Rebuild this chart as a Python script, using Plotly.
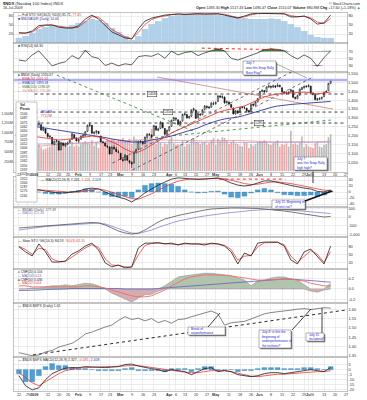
import plotly.graph_objects as go
import pandas as pd

W, H = 367, 400
ML, MR = 14, 20
FONT = "Liberation Sans"
GRID = "#dcdcdc"
LINEC = "#9a9a9a"
BLACK = "#1e1e1e"
RED = "#e63b36"
BLUE = "#33339f"
PURPLE = "#8585cc"

HOLIDAYS = ["2008-12-25", "2009-01-01", "2009-01-19", "2009-02-16",
            "2009-04-10", "2009-05-25", "2009-07-03"]
TICK_DATES = ["2008-12-22", "2008-12-29", "2009-01-02", "2009-01-12", "2009-01-20", "2009-01-26",
              "2009-02-02", "2009-02-09", "2009-02-17", "2009-02-23", "2009-03-02", "2009-03-09",
              "2009-03-16", "2009-03-23", "2009-04-01", "2009-04-06", "2009-04-13", "2009-04-20",
              "2009-04-27", "2009-05-01", "2009-05-11", "2009-05-18", "2009-05-26", "2009-06-01",
              "2009-06-08", "2009-06-15", "2009-06-22", "2009-06-29", "2009-07-01", "2009-07-06",
              "2009-07-13", "2009-07-20", "2009-07-27"]
TICK_LABELS = ["22", "29", "2009", "12", "20", "26", "Feb", "9", "17", "23", "Mar", "9", "16", "23",
               "Apr", "6", "13", "20", "27", "May", "11", "18", "26", "Jun", "8", "15", "22", "29",
               "Jul", "6", "13", "20", "27"]
MONTH_LABELS = ["2009", "Feb", "Mar", "Apr", "May", "Jun", "Jul"]

# ---- daily $NDX data, 19-Dec-2008 .. 16-Jul-2009 ----
OPEN = [1200, 1205, 1190, 1180, 1188, 1192, 1182, 1206,
        1214, 1258, 1260, 1262, 1230, 1238,
        1212, 1192, 1190, 1150, 1166,
        1168, 1120, 1158, 1142,
        1150, 1162, 1178, 1206, 1185,
        1168, 1180, 1196, 1198, 1224,
        1256, 1258, 1212, 1220, 1224,
        1198, 1164, 1158, 1140,
        1136, 1098, 1134, 1124, 1108,
        1100, 1064, 1062, 1086, 1058,
        1048, 1045, 1104, 1124, 1164,
        1164, 1156, 1190, 1206, 1204,
        1200, 1254, 1230, 1240, 1272,
        1240, 1208, 1230, 1252, 1285,
        1298, 1290, 1262, 1282,
        1318, 1320, 1300, 1310, 1344,
        1345, 1300, 1322, 1318, 1348,
        1365, 1362, 1360, 1380, 1380,
        1392, 1424, 1416, 1418, 1386,
        1390, 1376, 1356, 1322, 1340,
        1332, 1362, 1358, 1355, 1342,
        1335, 1378, 1372, 1390,
        1415, 1450, 1454, 1448, 1474,
        1478, 1474, 1480, 1476, 1484,
        1470, 1446, 1442, 1438, 1448,
        1455, 1416, 1408, 1428, 1460,
        1470, 1480, 1476, 1480,
        1440, 1432, 1402, 1406, 1410,
        1420, 1446, 1455, 1495]
HIGH = [1212, 1208, 1192, 1190, 1196, 1195, 1208, 1215,
        1265, 1268, 1285, 1264, 1252, 1240,
        1216, 1205, 1192, 1172, 1180,
        1170, 1162, 1162, 1160,
        1166, 1182, 1215, 1208, 1192,
        1186, 1200, 1212, 1226, 1262,
        1274, 1260, 1225, 1230, 1226,
        1198, 1172, 1162, 1148,
        1140, 1140, 1146, 1136, 1118,
        1102, 1078, 1096, 1090, 1062,
        1056, 1107, 1126, 1168, 1175,
        1170, 1194, 1214, 1216, 1206,
        1260, 1256, 1245, 1282, 1272,
        1242, 1234, 1254, 1290, 1306,
        1302, 1290, 1284, 1324,
        1330, 1322, 1312, 1348, 1358,
        1346, 1328, 1326, 1350, 1372,
        1370, 1368, 1390, 1392, 1394,
        1428, 1428, 1428, 1420, 1398,
        1392, 1380, 1358, 1345, 1342,
        1362, 1368, 1368, 1356, 1344,
        1380, 1382, 1394, 1412,
        1452, 1462, 1458, 1478, 1488,
        1482, 1488, 1486, 1496, 1488,
        1472, 1452, 1450, 1450, 1464,
        1454, 1420, 1432, 1466, 1476,
        1482, 1484, 1490, 1480,
        1444, 1436, 1412, 1416, 1420,
        1448, 1456, 1498, 1516]
LOW = [1195, 1182, 1176, 1178, 1184, 1174, 1180, 1200,
       1210, 1245, 1255, 1228, 1225, 1208,
       1185, 1186, 1150, 1148, 1160,
       1115, 1118, 1140, 1135,
       1145, 1158, 1176, 1182, 1168,
       1160, 1175, 1190, 1194, 1220,
       1250, 1210, 1206, 1205, 1208,
       1162, 1155, 1138, 1128,
       1094, 1095, 1120, 1106, 1100,
       1062, 1052, 1058, 1058, 1040,
       1018, 1044, 1098, 1120, 1155,
       1148, 1152, 1184, 1196, 1188,
       1200, 1226, 1224, 1238, 1240,
       1200, 1204, 1222, 1250, 1282,
       1282, 1258, 1258, 1280,
       1312, 1296, 1294, 1305, 1338,
       1294, 1298, 1310, 1315, 1342,
       1352, 1350, 1356, 1372, 1374,
       1390, 1410, 1408, 1380, 1380,
       1370, 1356, 1320, 1318, 1322,
       1330, 1352, 1350, 1336, 1328,
       1335, 1364, 1368, 1388,
       1412, 1444, 1440, 1444, 1470,
       1465, 1470, 1468, 1476, 1472,
       1444, 1432, 1430, 1435, 1442,
       1412, 1404, 1406, 1426, 1458,
       1466, 1470, 1474, 1438,
       1428, 1398, 1395, 1400, 1402,
       1418, 1440, 1452, 1490]
CLOSE = [1207, 1188, 1181, 1185, 1192, 1180, 1205, 1212,
         1262, 1262, 1272, 1232, 1241, 1214,
         1194, 1196, 1154, 1168, 1172,
         1118, 1160, 1145, 1152,
         1160, 1173, 1210, 1186, 1170,
         1178, 1197, 1200, 1222, 1258,
         1262, 1214, 1218, 1226, 1212,
         1165, 1160, 1142, 1137,
         1096, 1135, 1126, 1110, 1106,
         1066, 1060, 1090, 1061, 1050,
         1040, 1105, 1122, 1165, 1168,
         1155, 1192, 1208, 1205, 1192,
         1257, 1232, 1238, 1275, 1245,
         1207, 1230, 1250, 1287, 1302,
         1294, 1264, 1280, 1320,
         1323, 1300, 1308, 1345, 1352,
         1298, 1324, 1317, 1345, 1368,
         1360, 1358, 1383, 1378, 1386,
         1425, 1418, 1420, 1385, 1392,
         1378, 1360, 1322, 1340, 1328,
         1360, 1360, 1357, 1340, 1333,
         1376, 1372, 1390, 1410,
         1450, 1455, 1446, 1475, 1480,
         1474, 1482, 1475, 1485, 1478,
         1448, 1442, 1440, 1445, 1460,
         1417, 1410, 1426, 1462, 1472,
         1478, 1477, 1483, 1441,
         1434, 1404, 1408, 1410, 1416,
         1445, 1450, 1495, 1510]
VOLUME_M = [900, 550, 480, 300, 220, 420, 520, 480,
            450, 600, 700, 620, 560, 580,
            610, 640, 720, 760, 700,
            720, 760, 700, 740,
            640, 660, 760, 640, 680,
            640, 700, 720, 780, 720,
            700, 800, 660, 760, 600,
            760, 700, 740, 820,
            800, 840, 820, 760, 820,
            820, 860, 800, 780, 840,
            700, 900, 820, 800, 720,
            760, 800, 860, 780, 1100,
            780, 700, 800, 740, 640,
            720, 700, 800, 900, 720,
            680, 700, 680, 800,
            640, 700, 700, 800, 860,
            760, 760, 700, 740, 760,
            680, 720, 800, 860, 680,
            840, 780, 880, 860, 800,
            700, 760, 800, 720, 700,
            660, 640, 760, 740, 600,
            700, 660, 700, 760,
            780, 760, 800, 760, 700,
            680, 720, 760, 800, 640,
            700, 680, 720, 640, 1050,
            700, 720, 680, 740, 900,
            620, 700, 640, 620,
            600, 720, 760, 640, 620,
            680, 700, 880, 960]

# ---- indicators, read every 3rd trading day from 22-Dec-2008 ----
P1_BARS = [7, 13, 23, 37, 43, 47, 43, 43, 50, 57, 63, 70, 67, 57, 40, 27, 13, 0, 13, 37, 53, 63, 73, 80,
           83, 85, 85, 85, 85, 85, 83, 82, 80, 77, 73, 70, 70, 70, 72, 70, 63, 53, 43, 30, 17, 10, 7, 7]
P1_K = [23, 23, 30, 48, 50, 50, 43, 40, 40, 47, 70, 83, 70, 50, 27, 17, 7, 3, 37, 63, 73, 78, 83, 85,
        87, 85, 87, 88, 87, 88, 88, 83, 77, 73, 80, 87, 89, 89, 89, 89, 87, 77, 77, 80, 70, 53, 57, 83]
P1_D = [25, 23, 26, 42, 49, 50, 46, 42, 40, 43, 62, 78, 76, 58, 35, 22, 11, 5, 25, 52, 68, 76, 81, 84,
        86, 86, 86, 87, 87, 87, 88, 86, 80, 75, 77, 84, 88, 89, 89, 89, 88, 81, 78, 79, 74, 60, 55, 72]
RSI = [45, 42, 60, 72, 50, 28, 35, 40, 58, 48, 73, 55, 50, 29, 36, 28, 34, 31, 55, 58, 56, 64, 50, 71,
       60, 67, 70, 58, 66, 72, 78, 72, 50, 45, 52, 58, 66, 75, 78, 76, 72, 58, 48, 60, 50, 27, 52, 72]
MA_RED = [1186, 1186, 1192, 1192, 1186, 1181, 1175, 1178, 1181, 1186, 1192, 1198, 1192, 1181, 1164, 1147,
          1124, 1107, 1107, 1124, 1147, 1169, 1192, 1215, 1232, 1249, 1266, 1282, 1299, 1316, 1331, 1342,
          1350, 1362, 1367, 1384, 1401, 1418, 1429, 1435, 1441, 1441, 1444, 1446, 1441, 1435, 1441, 1446]
MA_BLUE = [1266, 1260, 1254, 1249, 1243, 1237, 1232, 1226, 1220, 1215, 1209, 1203, 1198, 1189, 1181, 1175,
           1169, 1164, 1164, 1167, 1175, 1181, 1189, 1198, 1209, 1218, 1232, 1243, 1260, 1274, 1285, 1294,
           1299, 1305, 1314, 1325, 1339, 1350, 1359, 1367, 1373, 1376, 1379, 1381, 1384, 1387, 1390, 1393]
VOL_MA_RED = [600, 610, 620, 640, 660, 680, 700, 710, 720, 730, 740, 750, 760, 770, 780, 790, 800, 805,
              810, 815, 815, 810, 800, 795, 790, 785, 780, 780, 785, 790, 795, 800, 800, 795, 790, 780,
              770, 765, 760, 760, 765, 770, 770, 765, 760, 760, 765, 775]
VOL_MA_PURPLE = [700, 700, 705, 705, 710, 710, 715, 715, 720, 720, 725, 725, 730, 730, 735, 735, 740, 740,
                 745, 745, 750, 750, 750, 752, 752, 754, 754, 756, 756, 756, 758, 758, 758, 758, 756, 756,
                 754, 754, 752, 752, 750, 750, 748, 748, 746, 746, 745, 745]
MACD_LINE = [7, 7, 7, 7, 3, 0, -3, -3, 0, 3, 10, 13, 10, 0, -10, -17, -23, -33, -20, -3, 10, 23, 33, 43,
             47, 45, 43, 42, 43, 45, 47, 40, 30, 23, 20, 23, 30, 37, 37, 33, 27, 22, 17, 13, 10, 2, 0, 7]
MACD_SIGNAL = [5, 6, 7, 7, 6, 4, 1, -1, -1, 0, 4, 8, 10, 6, -1, -8, -15, -22, -24, -16, -6, 6, 17, 28,
               36, 41, 43, 44, 44, 44, 45, 44, 40, 34, 28, 25, 26, 30, 33, 34, 32, 28, 24, 20, 16, 11, 6, 5]
MACD_HIST = [3, 2, 0, 0, -5, -7, -7, -4, 2, 5, 10, 9, 0, -10, -15, -16, -14, -18, 7, 22, 28, 30, 28, 26,
             19, 7, 0, -3, -2, 2, 3, -7, -17, -19, -14, -3, 7, 12, 7, -2, -9, -10, -12, -12, -10, -15, -10, 3]
AD_LINE = [-630, -600, -575, -550, -520, -490, -460, -430, -400, -375, -345, -315, -345, -460, -630, -805,
           -920, -980, -920, -750, -520, -290, -115, 0, 85, 170, 260, 345, 400, 460, 490, 520,
           520, 520, 520, 520, 490, 460, 430, 400, 345, 290, 230, 170, 115, 60, 0, 30]
AD_MA = [-750, -690, -630, -575, -545, -520, -490, -460, -430, -400, -375, -345, -345, -400, -520, -660,
         -805, -920, -950, -860, -750, -600, -460, -345, -230, -145, -60, 0, 60, 115, 170, 230,
         260, 290, 345, 375, 400, 430, 460, 460, 430, 400, 375, 345, 315, 290, 230, 200]
STO_K = [80, 61, 46, 91, 61, 23, 23, 27, 53, 65, 83, 94, 68, 20, 5, 12, 1, 5, 76, 94, 94, 96, 91, 94,
         87, 94, 91, 91, 87, 94, 91, 83, 61, 16, 57, 46, 94, 98, 98, 98, 83, 31, 16, 61, 72, 42, 16, 83]
STO_D = [82, 70, 52, 75, 70, 35, 25, 25, 42, 60, 76, 88, 78, 35, 12, 10, 5, 4, 50, 85, 93, 94, 92, 92,
         89, 91, 91, 90, 89, 91, 91, 86, 70, 30, 45, 48, 80, 95, 97, 97, 88, 45, 22, 45, 66, 52, 22, 62]
CMF_AREA = [0, 0, 0.02, 0.02, 0.04, 0.06, 0.06, 0.08, 0.06, 0.08, 0.11, 0.10, 0.06, 0, -0.08, -0.13,
            -0.19, -0.25, -0.17, -0.11, -0.10, -0.04, 0.06, 0.15, 0.23, 0.25, 0.27, 0.29, 0.30, 0.30, 0.29, 0.27,
            0.25, 0.21, 0.17, 0.06, 0.15, 0.17, 0.21, 0.23, 0.23, 0.19, 0.17, 0.08, -0.04, -0.06, -0.02, 0.11]
CMF_RED = [0.06, 0.06, 0.04, 0.04, 0.04, 0.04, 0.04, 0.04, 0.04, 0.04, 0.06, 0.06, 0.04, 0.02, -0.02, -0.06,
           -0.10, -0.13, -0.15, -0.15, -0.13, -0.08, -0.02, 0.06, 0.13, 0.19, 0.23, 0.25, 0.27, 0.27, 0.27, 0.26,
           0.25, 0.23, 0.21, 0.19, 0.17, 0.17, 0.17, 0.18, 0.19, 0.19, 0.17, 0.15, 0.11, 0.08, 0.06, 0.06]
CMF_BLUE = [-0.03, -0.03, -0.02, -0.02, -0.01, -0.01, 0, 0, 0.01, 0.01, 0.02, 0.02, 0.02, 0.02, 0.01, 0.01,
            0, 0, -0.01, -0.01, 0, 0.01, 0.02, 0.03, 0.04, 0.05, 0.06, 0.07, 0.08, 0.09, 0.10, 0.11,
            0.12, 0.13, 0.14, 0.15, 0.16, 0.17, 0.18, 0.18, 0.19, 0.19, 0.18, 0.17, 0.16, 0.14, 0.13, 0.13]
RATIO = [1.368, 1.362, 1.352, 1.356, 1.372, 1.380, 1.398, 1.408, 1.418, 1.440, 1.468, 1.478, 1.492, 1.505,
         1.515, 1.540, 1.560, 1.545, 1.552, 1.538, 1.550, 1.528, 1.540, 1.525, 1.545, 1.548, 1.560, 1.570,
         1.582, 1.590, 1.575, 1.515, 1.528, 1.530, 1.535, 1.548, 1.560, 1.575, 1.582, 1.585, 1.588, 1.595,
         1.600, 1.603, 1.598, 1.602, 1.608, 1.606]
RMACD_LINE = [-6, -16, -20, -18, -10, -4, -1, 1.5, 2, 2, 3, 2.5, 2, 2, 2.5, 3, 5, 5.5, 3.5, 2, 1, 0, -2, 0,
              -1, -2, -5, -2, 1, 2, -2, -1, -2, -5, -6, -7, -6, -4, -3, -3, -4, -3, -2, -1, 0, -1, -2, 2]
RMACD_SIGNAL = [-3, -8, -13, -16, -12, -8, -4, -1, 0.5, 1.5, 2, 2.5, 3, 3, 3, 3.5, 4, 4, 4, 3, 2, 1, 0, -1,
                -1.5, -2.5, -3, -3, -2, -1, -1, -1, -2, -3.5, -5, -6.5, -7, -6, -5, -4.5, -4.5, -4, -3, -2.5,
                -2, -2, -2, -1]
RMACD_HIST = [-4, -12, -12, -6, 3, 6, 4, 4, 2, 1, 1, 0, -1, -1, -1, -1, 1, 2, -1, -1, -1, -1, -2, 1,
              1, 1, -2, 1, 3, 3, -1, 0, 0, -2, -1, -1, 1, 2, 2, 2, 1, 1, 1, 2, 2, 1, 0, 3]

# ---- drawn lines (trading-day position, value) ----
RESIST_LEVEL = 1514
LEVELS = [1435, 1333, 1271]
LEVEL_LABELS = ["1458", "1356", "1285"]
LEVEL_LABEL_POS = [61.3, 68.4, 109.4]
CHAN_UP_X, CHAN_UP_Y = [43.3, 129.6], [1045, 1593]
CHAN_LO_X, CHAN_LO_Y = [52.3, 134.1], [1006, 1531]
DOWN_GREEN_X, DOWN_GREEN_Y = [18.1, 81.0], [1542, 1220]
DOWN_BROWN_X, DOWN_BROWN_Y = [63.5, 143.1], [1531, 1350]
UP_GREEN_X, UP_GREEN_Y = [59.9, 142.2], [1186, 1288]
RSI_TL_X, RSI_TL_Y = [83.7, 119.7], [80, 75]
MACD_TL_X, MACD_TL_Y = [91.4, 121.5], [43, 43]
RATIO_TL_X, RATIO_TL_Y = [7.3, 148.5], [1.356, 1.595]
BOX_NUMBERS = ["1500", "1487", "1475", "1462", "1450", "1437", "1425", "1412", "1400", "1387",
               "1375", "1362", "1350", "1337", "1325", "1312", "1300", "1287", "1275", "1262"]

# ---------------------------------------------------------------------------
days = pd.bdate_range("2008-12-19", "2009-07-31")
days = days[~days.isin(pd.to_datetime(HOLIDAYS))]
day_pos = {d.strftime("%Y-%m-%d"): i for i, d in enumerate(days)}
N = len(CLOSE)
XD = list(range(N))
XS = list(range(1, N, 3))
for arr in [OPEN, HIGH, LOW, VOLUME_M]:
    assert len(arr) == N
for arr in [P1_BARS, P1_K, P1_D, RSI, MA_RED, MA_BLUE, VOL_MA_RED, VOL_MA_PURPLE, MACD_LINE,
            MACD_SIGNAL, MACD_HIST, AD_LINE, AD_MA, STO_K, STO_D, CMF_AREA, CMF_RED, CMF_BLUE, RATIO,
            RMACD_LINE, RMACD_SIGNAL, RMACD_HIST]:
    assert len(arr) == len(XS), len(arr)

TICKVALS = [day_pos[d] for d in TICK_DATES]
TICKTEXT = [f"<b>{t}</b>" if t in MONTH_LABELS else t for t in TICK_LABELS]
XR = [-1.25, 149.4]
PANELS = [(13, 43), (43, 72), (72, 172), (177, 207), (207, 237), (237, 269), (269, 303), (303, 357), (357, 391)]


def dom(t, b):
    return [1 - b / H, 1 - t / H]


def xn(i):
    return "x" if i == 1 else f"x{i}"


def yn(i):
    return "y" if i == 1 else f"y{i}"


fig = go.Figure()


def line(x, y, xa, ya, color, width=0.8, dash=None, fill=None, fillcolor=None):
    fig.add_trace(go.Scatter(x=x, y=y, mode="lines", xaxis=xa, yaxis=ya,
                             line=dict(color=color, width=width, dash=dash),
                             fill=fill, fillcolor=fillcolor, hoverinfo="skip", showlegend=False))


# P1
fig.add_trace(go.Bar(x=XS, y=[v + 10 for v in P1_BARS], base=-10, width=3, xaxis="x", yaxis="y",
                     marker=dict(color="rgba(165,200,228,0.85)", line=dict(width=0)), hoverinfo="skip"))
line(XS, P1_D, "x", "y", RED, 0.8)
line(XS, P1_K, "x", "y", BLACK, 0.8)
fig.add_trace(go.Scatter(x=[0], y=[0], mode="markers", marker=dict(opacity=0), xaxis="x", yaxis="y11",
                         hoverinfo="skip", showlegend=False))

# P2 RSI
line(XS, [70] * len(XS), "x2", "y2", "rgba(0,0,0,0)", 0)
line(XS, [max(v, 70) for v in RSI], "x2", "y2", "rgba(0,0,0,0)", 0, fill="tonexty",
     fillcolor="rgba(50,110,50,0.9)")
line(XS, [30] * len(XS), "x2", "y2", "rgba(0,0,0,0)", 0)
line(XS, [min(v, 30) for v in RSI], "x2", "y2", "rgba(0,0,0,0)", 0, fill="tonexty",
     fillcolor="rgba(110,50,95,0.9)")
line(XS, RSI, "x2", "y2", BLACK, 0.7)
line(RSI_TL_X, RSI_TL_Y, "x2", "y2", "#ff2020", 1.0, dash="dot")

# P3 price + volume
vcol = ["rgba(236,150,150,0.85)" if i > 0 and CLOSE[i] < CLOSE[i - 1] else "rgba(178,178,178,0.9)"
        for i in range(N)]
fig.add_trace(go.Bar(x=XD, y=VOLUME_M, width=0.75, xaxis="x3", yaxis="y3",
                     marker=dict(color=vcol, line=dict(width=0)), hoverinfo="skip"))
line(XS, VOL_MA_RED, "x3", "y3", "#f08080", 0.7)
line(XS, VOL_MA_PURPLE, "x3", "y3", "#a0a0e0", 0.7)
line(XR, [RESIST_LEVEL] * 2, "x3", "y10", "rgba(150,150,250,0.75)", 2.6)
for lv in LEVELS:
    line([8, 148], [lv, lv], "x3", "y10", "#111", 0.8, dash="dot")
line(CHAN_UP_X, CHAN_UP_Y, "x3", "y10", "#333", 0.7, dash="dot")
line(CHAN_LO_X, CHAN_LO_Y, "x3", "y10", "#333", 0.7, dash="dot")
line(DOWN_GREEN_X, DOWN_GREEN_Y, "x3", "y10", "#2f7a2f", 0.8, dash="dot")
line(DOWN_BROWN_X, DOWN_BROWN_Y, "x3", "y10", "#c07070", 0.7)
line(UP_GREEN_X, UP_GREEN_Y, "x3", "y10", "#2f7a2f", 0.8, dash="dot")
line(XS, MA_BLUE, "x3", "y10", BLUE, 0.9)
line(XS, MA_RED, "x3", "y10", RED, 0.9)
fig.add_trace(go.Candlestick(x=XD, open=OPEN, high=HIGH, low=LOW, close=CLOSE, xaxis="x3", yaxis="y10",
                             increasing=dict(line=dict(color="#111", width=0.6), fillcolor="white"),
                             decreasing=dict(line=dict(color="#111", width=0.6), fillcolor="#111"),
                             whiskerwidth=0, hoverinfo="skip", showlegend=False))

# P4 MACD
fig.add_trace(go.Bar(x=XS, y=MACD_HIST, width=2.2, xaxis="x4", yaxis="y4",
                     marker=dict(color="#4d9fd6", line=dict(color="#2a6fa5", width=0.3)), hoverinfo="skip"))
line(XS, MACD_SIGNAL, "x4", "y4", RED, 0.8)
line(XS, MACD_LINE, "x4", "y4", BLACK, 0.8)
line(MACD_TL_X, MACD_TL_Y, "x4", "y4", "#ff2020", 1.0, dash="dot")

# P5
line(XS, AD_MA, "x5", "y5", PURPLE, 0.8)
line(XS, AD_LINE, "x5", "y5", "#555", 0.8)

# P6 slow sto
line(XS, STO_D, "x6", "y6", RED, 0.8)
line(XS, STO_K, "x6", "y6", BLACK, 0.8)

# P7 CMF
line(XS, [max(v, 0) for v in CMF_AREA], "x7", "y7", "#888", 0.5, fill="tozeroy",
     fillcolor="rgba(170,190,165,0.9)")
line(XS, [min(v, 0) for v in CMF_AREA], "x7", "y7", "#888", 0.5, fill="tozeroy",
     fillcolor="rgba(205,165,170,0.9)")
line(XS, CMF_BLUE, "x7", "y7", "#6060c0", 0.8)
line(XS, CMF_RED, "x7", "y7", "#f06a6a", 0.9)

# P8 ratio
line(RATIO_TL_X, RATIO_TL_Y, "x8", "y8", "#111", 0.9, dash="dot")
line(XS, RATIO, "x8", "y8", "#505050", 0.7)

# P9 ratio MACD
fig.add_trace(go.Bar(x=XS, y=RMACD_HIST, width=2.2, xaxis="x9", yaxis="y9",
                     marker=dict(color="#4d9fd6", line=dict(color="#2a6fa5", width=0.3)), hoverinfo="skip"))
line(XS, RMACD_SIGNAL, "x9", "y9", RED, 0.8)
line(XS, RMACD_LINE, "x9", "y9", BLACK, 0.8)

# ---------------------------------------------------------------------------
TF = dict(size=4.0, color="#333", family=FONT)
lay = dict(width=W, height=H, margin=dict(l=ML, r=MR, t=0, b=0, pad=0, autoexpand=False),
           paper_bgcolor="white", plot_bgcolor="white", showlegend=False, barmode="overlay",
           hovermode=False, font=dict(family=FONT, size=4.0, color="#222"))
for i in range(1, 10):
    xa = dict(domain=[0, 1], anchor=yn(i), range=XR, tickvals=TICKVALS, ticktext=TICKTEXT,
              showticklabels=False, showgrid=True, gridcolor=GRID, gridwidth=0.5,
              showline=True, mirror=True, linecolor=LINEC, linewidth=0.6, ticks="", zeroline=False,
              tickfont=TF, fixedrange=True, automargin=False)
    if i > 1:
        xa["matches"] = "x"
    if i == 3:
        xa["rangeslider"] = dict(visible=False)
    lay["xaxis" if i == 1 else f"xaxis{i}"] = xa


def yax(i, rng, tv, tt, side="right", grid=True, size=4.0):
    return dict(domain=dom(*PANELS[i - 1]), anchor=xn(i), range=rng, side=side, tickvals=tv, ticktext=tt,
                showgrid=grid, gridcolor=GRID, gridwidth=0.5, zeroline=False, showline=True, mirror=True,
                linecolor=LINEC, linewidth=0.6, ticks="", tickfont=dict(size=size, color="#333", family=FONT),
                fixedrange=True, automargin=False)


lay["yaxis"] = yax(1, [-10, 90], [20, 50, 80], ["20", "50", "80"])
lay["yaxis11"] = dict(overlaying="y", anchor="x", side="left", range=[-10, 90], tickvals=[20, 50, 80],
                      ticktext=["20", "50", "80"], showgrid=False, showline=False, zeroline=False, ticks="",
                      tickfont=dict(size=3.8, color="#333", family=FONT), fixedrange=True, automargin=False)
lay["yaxis2"] = yax(2, [10, 95], [30, 50, 70], ["30", "50", "70"])
lay["yaxis3"] = yax(3, [-26, 2580], [250, 500, 750, 1000, 1250, 1500],
                    ["250M", "500M", "750M", "1,000M", "1,250M", "1,500M"], side="left", grid=False, size=3.4)
pt = list(range(1050, 1551, 50))
lay["yaxis10"] = dict(overlaying="y3", anchor="x3", side="right", range=[994.4, 1559.3], tickvals=pt,
                      ticktext=[f"{v:,}" for v in pt], showgrid=True, gridcolor=GRID, gridwidth=0.5,
                      showline=False, zeroline=False, ticks="", tickfont=TF, fixedrange=True, automargin=False)
lay["yaxis4"] = yax(4, [-50, 50], [-40, -20, 0, 20, 40], ["-40", "-20", "0", "20", "40"])
lay["yaxis5"] = yax(5, [-1150, 575], [-1000, -500, 0, 500], ["-1,000", "-500", "0", "500"])
lay["yaxis6"] = yax(6, [-3, 117], [20, 50, 80], ["20", "50", "80"])
lay["yaxis7"] = yax(7, [-0.267, 0.381], [-0.2, 0, 0.2], ["-0.2", "0.0", "0.2"])
rt = [1.35, 1.40, 1.45, 1.50, 1.55, 1.60]
lay["yaxis8"] = yax(8, [1.345, 1.633], rt, [f"{v:.2f}" for v in rt])
lay["yaxis9"] = yax(9, [-21.15, 12.5], [-20, -15, -10, -5, 0, 5], ["-20", "-15", "-10", "-5", "0", "5"])

shapes, anns = [], []


def P(x, y):
    return (x - ML) / (W - ML - MR), 1 - y / H


def txt(x, y, s, size=3.6, color="#222", xanchor="left"):
    a, b = P(x, y)
    anns.append(dict(x=a, y=b, xref="paper", yref="paper", text=s, showarrow=False, xanchor=xanchor,
                     yanchor="middle", align="left", font=dict(size=size, color=color, family=FONT)))


def rect(x0, y0, x1, y1, fill, lc="#888", lw=0.5):
    a, b = P(x0, y1)
    c, d = P(x1, y0)
    shapes.append(dict(type="rect", xref="paper", yref="paper", x0=a, y0=b, x1=c, y1=d, fillcolor=fill,
                       line=dict(color=lc, width=lw), layer="above"))


def seg(x0, y0, x1, y1, color, width):
    a, b = P(x0, y0)
    c, d = P(x1, y1)
    shapes.append(dict(type="line", xref="paper", yref="paper", x0=a, y0=b, x1=c, y1=d,
                       line=dict(color=color, width=width), layer="above"))


def note(x0, y0, x1, y1, lines):
    rect(x0 + 1.3, y0 + 1.3, x1 + 1.3, y1 + 1.3, "#7a7a7a", lc="#7a7a7a", lw=0)
    rect(x0, y0, x1, y1, "white", lc="#666", lw=0.5)
    step = (y1 - y0) / len(lines)
    for k, s in enumerate(lines):
        txt(x0 + 1.2, y0 + step * (k + 0.5), s, size=3.2, color="#2525d0")


R = "<span style='color:#e63b36'>%s</span>"
B = "<span style='color:#33339f'>%s</span>"

# date labels under the price panel and under the bottom panel
for ypx in (174.8, 395.3):
    for tv, tt in zip(TICKVALS, TICKTEXT):
        anns.append(dict(x=tv, y=1 - ypx / H, xref="x9", yref="paper", text=tt, showarrow=False,
                         xanchor="center", yanchor="middle", font=dict(size=3.8, color="#333", family=FONT)))

# header
txt(1, 3.5, "<b>$NDX</b> (Nasdaq 100 Index) INDX", size=4.2)
txt(1, 8.3, "16-Jul-2009", size=3.7)
txt(362, 3.5, "© StockCharts.com", size=3.6, xanchor="right")
txt(362, 8.3, "<b>Open</b> 1493.30 <b>High</b> 1517.43 <b>Low</b> 1490.47 <b>Close</b> 1510.07 "
              "<b>Volume</b> 880.8M <b>Chg</b> +17.60 (+1.18%) <span style='color:#1a9a1a'>▲</span>",
    size=3.7, xanchor="right")

# panel legends
txt(16, 14.8, "— Full STO %K(30,5) %D(5) 81.71, " + R % "77.45", size=3.4)
txt(16, 18.6, B % "■ $NDXA50R (Daily) 14.00", size=3.4)
txt(16, 45.8, "<span style='color:#326e32'>■</span> RSI(14) 64.30", size=3.5)
txt(16, 75.2, "<span style='color:#6060a0'>■</span> $NDX (Daily) 1510.07", size=3.3)
txt(16, 79.1, R % "— EMA(20) 1441.32", size=3.3)
txt(16, 83, B % "— EMA(50) 1393.18", size=3.3)
txt(16, 86.9, "<span style='color:#2f7a2f'>- - SMA(150) 1288.09</span>", size=3.3)
txt(16, 90.8, "<span style='color:#e08080'>— Vol MA(50) 773.2M</span>", size=3.3)
txt(39, 112, B % "880.8M", size=3.3)
txt(39, 116, R % "773.2M", size=3.3)
txt(39, 179.8, "— MACD(12,26,9) 7.245, " + R % "5.126" + ", " + B % "2.119", size=3.5)
txt(16, 209.5, "<span style='color:#555'>— $NDAD (Daily) -177.49</span>", size=3.3)
txt(16, 213.3, "<span style='color:#8585cc'>— MA(50) 221.46</span>", size=3.3)
txt(16, 240.6, "— Slow STO %K(14,3) 84.59, " + R % "%D(3) 61.55", size=3.5)
txt(16, 272, "<span style='color:#8aa585'>■</span> CMF(20) 0.104", size=3.2)
txt(16, 275.8, "<span style='color:#6060c0'>— MA(100) 0.13</span>", size=3.2)
txt(16, 279.6, "<span style='color:#2f7a2f'>■</span> CMF(50) 0.036", size=3.2)
txt(16, 283.4, R % "— MA(20) 0.054", size=3.2)
txt(16, 306, "— $NDX:$SPX (Daily) 1.61", size=3.5)
txt(16, 359.8, "— $NDX:$SPX MACD(12,26,9) 2.327, " + R % "-0.081" + ", " + B % "2.408", size=3.5)

# left side box in price panel
rect(16, 102, 37, 202, "white", lc="#8a8a8a", lw=0.5)
txt(17.5, 105, "<b>Vol</b>", size=3.3)
txt(17.5, 108.6, "<b>Pivots</b>", size=3.3)
for k, s in enumerate(BOX_NUMBERS):
    txt(17.5, 114 + 4.3 * k, s, size=3.3)

# level labels
for lv, lab, xp in zip(LEVELS, LEVEL_LABELS, LEVEL_LABEL_POS):
    anns.append(dict(x=xp, y=lv, xref="x3", yref="y10", text=lab, showarrow=False, bgcolor="white",
                     bordercolor="#222", borderwidth=0.5, borderpad=0.6,
                     font=dict(size=3.4, color="#111", family=FONT)))

# comment boxes
note(243, 61, 276, 75, ["July 7", "was this Snap Rally", "Bear Flag?"])
seg(276.5, 64, 307, 78, "#777", 0.6)
note(294, 157, 327, 170, ["July 7", "was this Snap Rally", "high high?"])
seg(313, 171.5, 313, 183, "#111", 0.8)
note(272, 200, 305, 209, ["July 15: Beginning of", "of next run?"])
seg(305, 201, 332, 191, "#111", 1.4)
note(188, 327, 225, 335, ["Break of", "outperformance"])
seg(208, 327, 220, 313, "#111", 0.8)
note(259, 330, 291, 348, ["July 8: is this the", "beginning of", "underperformance of", "the technos?"])
seg(292, 330, 311, 309, "#111", 0.8)
note(306, 333, 324, 341, ["July 15", "reclaimed?"])
seg(322, 333, 322, 308, "#111", 0.8)

lay["shapes"] = shapes
lay["annotations"] = anns
fig.update_layout(**lay)
fig.write_html("out.html", config={"displayModeBar": False, "staticPlot": True},
               post_script="document.body.style.margin='0';document.body.style.overflow='hidden';")
